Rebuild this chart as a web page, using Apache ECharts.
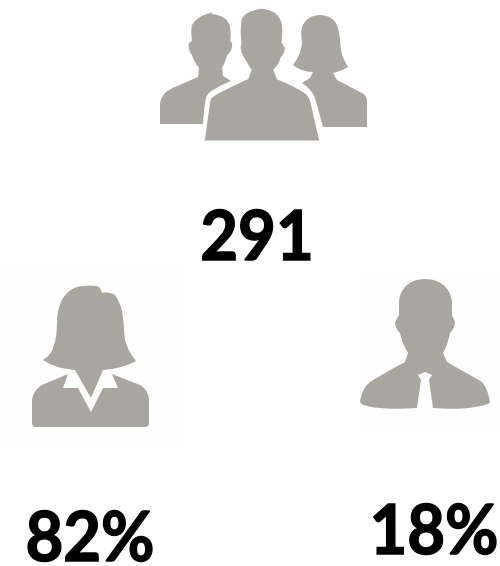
<!DOCTYPE html>
<html>
<head>
<meta charset="utf-8">
<style>html,body{margin:0;padding:0;background:#fff}#chart{width:500px;height:566px}</style>
<script src="https://cdn.jsdelivr.net/npm/echarts@6/dist/echarts.min.js"></script>
</head>
<body>
<div id="chart"></div>
<script>
var groups = ['total', 'female', 'male']
var values = [291, 82, 18]
var units = ['', '%', '%']

var iconColor = '#a8a69e'
var textFont = 'Lato, "Liberation Sans", Arial, sans-serif'

// icon outlines, page pixels
var manBack = 'M160 124L160 104C161 95 167 90 175 87L198 77L199 68C195 63 193 59 192 55C189 52 188 46 189 43L192 41C191 34 191 29 192 25C196 18 203 15 210 13L211 12L212 14C222 15 229 20 230 27C231 32 231 37 230 41L232 43C233 48 230 53 227 55C226 60 224 64 222 68L223 76L231 81C221 85 212 90 208 94C205 98 204 110 203 124Z'
var womanBack = 'M367 127L323 127L315 98C313 92 308 87 302 83L310 78L313 72C305 72 298 69 293 65C298 58 301 52 302 43C301 36 301 31 302 27C305 19 312 15 320 15C329 15 336 20 338 28C340 35 340 43 341 50C342 56 345 62 348 67C343 70 338 72 333 73L337 80L360 92C365 94 367 97 367 101Z'
var manFront = 'M203 142L321 142L313 107C312 100 310 96 307 93C300 88 288 82 278 78L275 70C279 66 281 62 282 58C285 55 287 50 286 47L283 42C284 34 284 27 283 22C280 14 274 10 270 9C265 7 260 7 257 8C247 10 241 15 240 20C239 28 239 36 240 43L239 48C240 54 243 59 245 62C247 66 249 68 250 70L247 78C238 82 230 86 222 90C216 93 212 95 210 98C209 100 208 103 208 107Z'
var womanBody = 'M36 427C33 427 32 425 32 422L32 400C33 393 37 388 42 385L68 374L63 388L78 388L91 412L103 388L118 388L112 374L140 385C145 388 149 393 149 400L149 422C149 425 148 427 145 427Z'
var womanHead = 'M43 360C49 356 52 352 53 348C56 340 57 332 57 323C57 314 59 306 62 300C67 291 75 286 83 286C90 285 98 285 100 288L102 293C107 292 112 293 115 295C120 302 122 309 123 317C124 325 124 333 125 340C127 348 131 355 136 361C127 366 116 369 103 370L91 398L75 370C63 369 52 366 43 360Z'
var manSingle = 'M425 279C408 279 400 290 399 302L399 315L395 322C395 327 398 331 400 333C402 342 405 348 408 353L405 362C392 369 381 375 370 382C364 387 361 394 360 402C362 408 390 410 417 408L421 380L418 375L425 372L432 375L429 380L433 408C455 410 480 408 490 403C489 395 487 388 482 382C471 375 458 369 447 362L443 353C446 348 448 342 450 333C452 331 455 327 455 322L452 315L452 302C451 290 442 279 425 279Z'

var iconSets = [[manBack, womanBack, manFront], [womanBody, womanHead], [manSingle]]
var textPos = [[257, 238], [90, 539], [434, 532]]

function renderItem(params, api) {
  var i = params.dataIndex
  var children = iconSets[i].map(function (d, k) {
    var outlined = i === 0 && k === 2
    return {
      type: 'path',
      shape: {pathData: d},
      style: {fill: iconColor, stroke: outlined ? '#fff' : null, lineWidth: outlined ? 3 : 0}
    }
  })
  children.push({
    type: 'text',
    x: textPos[i][0],
    y: textPos[i][1],
    scaleX: 0.96,
    style: {
      text: api.value(0) + units[i],
      fill: '#000',
      stroke: '#000',
      lineWidth: 1.5,
      font: 'bold 68px ' + textFont,
      align: 'center',
      verticalAlign: 'middle'
    }
  })
  return {type: 'group', children: children}
}

var chart = echarts.init(document.getElementById('chart'))
chart.setOption({
  backgroundColor: '#fff',
  animation: false,
  graphic: {
    elements: [
      {type: 'rect', z: -1, shape: {x: 0, y: 265, width: 185, height: 180}, style: {fill: '#fefefe'}},
      {type: 'rect', z: -1, shape: {x: 362, y: 278, width: 138, height: 150}, style: {fill: '#fefefe'}}
    ]
  },
  series: [{
    type: 'custom',
    coordinateSystem: 'none',
    renderItem: renderItem,
    data: values.map(function (v, i) { return {name: groups[i], value: [v]} })
  }]
})
</script>
</body>
</html>
